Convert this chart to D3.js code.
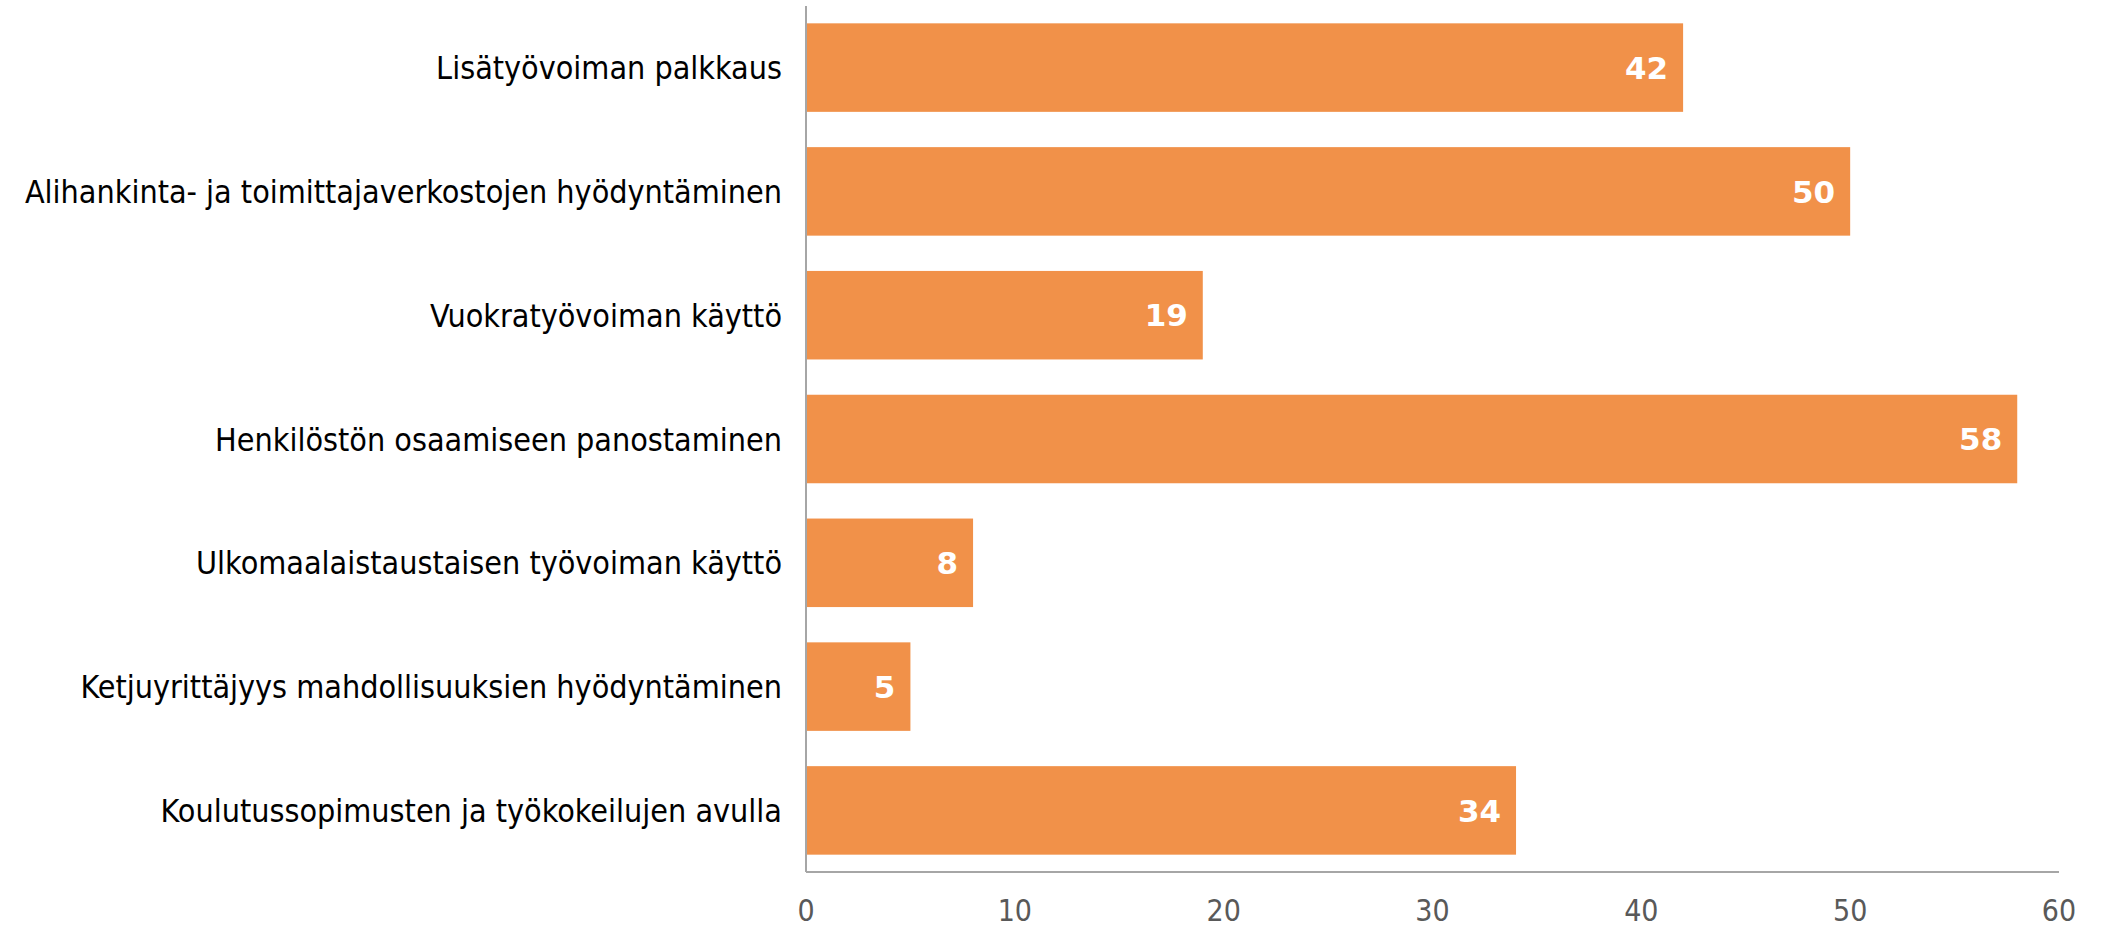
<!DOCTYPE html>
<html>
<head>
    <meta charset="utf-8">
    <title>Bar chart</title>
    <style>
        body { margin: 0; background: #fff; }
        .cat-label { font-family: "DejaVu Sans Condensed", "DejaVu Sans", sans-serif; fill: #000; }
        .tick-label { font-family: "DejaVu Sans Condensed", "DejaVu Sans", sans-serif; fill: #595959; }
        .value-label { font-family: "DejaVu Sans", sans-serif; font-weight: bold; fill: #fff; }
    </style>
</head>
<body>
<div class="chart-container"></div>
<script src="https://cdn.jsdelivr.net/npm/d3@7"></script>
<script>
    var categories = [
        'Lisätyövoiman palkkaus',
        'Alihankinta- ja toimittajaverkostojen hyödyntäminen',
        'Vuokratyövoiman käyttö',
        'Henkilöstön osaamiseen panostaminen',
        'Ulkomaalaistaustaisen työvoiman käyttö',
        'Ketjuyrittäjyys mahdollisuuksien hyödyntäminen',
        'Koulutussopimusten ja työkokeilujen avulla'
    ];
    var values = [42, 50, 19, 58, 8, 5, 34];
    var xTicks = [0, 10, 20, 30, 40, 50, 60];

    var barColor = '#f19149';
    var axisColor = '#a6a6a6';

    var width = 2103, height = 927;
    var margin = {top: 6, right: 44, bottom: 55, left: 806};

    var svg = d3.select('.chart-container').append('svg')
            .attr('width', width)
            .attr('height', height);

    var x = d3.scaleLinear()
            .domain([0, 60])
            .range([margin.left, width - margin.right]);

    var y = d3.scaleBand()
            .domain(categories)
            .range([margin.top, height - margin.bottom])
            .paddingInner(0.285)
            .paddingOuter(0.14);

    var data = categories.map(function (c, i) { return {name: c, value: values[i]}; });

    // bars
    svg.append('g').selectAll('rect')
            .data(data)
            .enter().append('rect')
            .attr('x', x(0))
            .attr('y', function (d) { return y(d.name); })
            .attr('width', function (d) { return x(d.value) - x(0); })
            .attr('height', y.bandwidth())
            .style('fill', barColor);

    // value labels
    svg.append('g').selectAll('text')
            .data(data)
            .enter().append('text')
            .attr('class', 'value-label')
            .attr('x', function (d) { return x(d.value) - 15; })
            .attr('y', function (d) { return y(d.name) + y.bandwidth() / 2; })
            .attr('dy', '0.36em')
            .attr('text-anchor', 'end')
            .style('font-size', '31px')
            .text(function (d) { return d.value; });

    // axis lines
    var yBottom = height - margin.bottom;
    svg.append('line')
            .attr('x1', x(0)).attr('x2', x(0))
            .attr('y1', margin.top).attr('y2', yBottom)
            .style('stroke', axisColor).style('stroke-width', 2);
    svg.append('line')
            .attr('x1', x(0)).attr('x2', x(60))
            .attr('y1', yBottom).attr('y2', yBottom)
            .style('stroke', axisColor).style('stroke-width', 2);

    // x tick labels
    svg.append('g').selectAll('text')
            .data(xTicks)
            .enter().append('text')
            .attr('class', 'tick-label')
            .attr('x', function (d) { return x(d); })
            .attr('y', 910)
            .attr('dy', '0.36em')
            .attr('text-anchor', 'middle')
            .style('font-size', '30px')
            .text(function (d) { return d; });

    // category labels
    svg.append('g').selectAll('text')
            .data(categories)
            .enter().append('text')
            .attr('class', 'cat-label')
            .attr('x', 782)
            .attr('y', function (d) { return y(d) + y.bandwidth() / 2; })
            .attr('dy', '0.36em')
            .attr('text-anchor', 'end')
            .style('font-size', '32px')
            .text(function (d) { return d; });
</script>
</body>
</html>
